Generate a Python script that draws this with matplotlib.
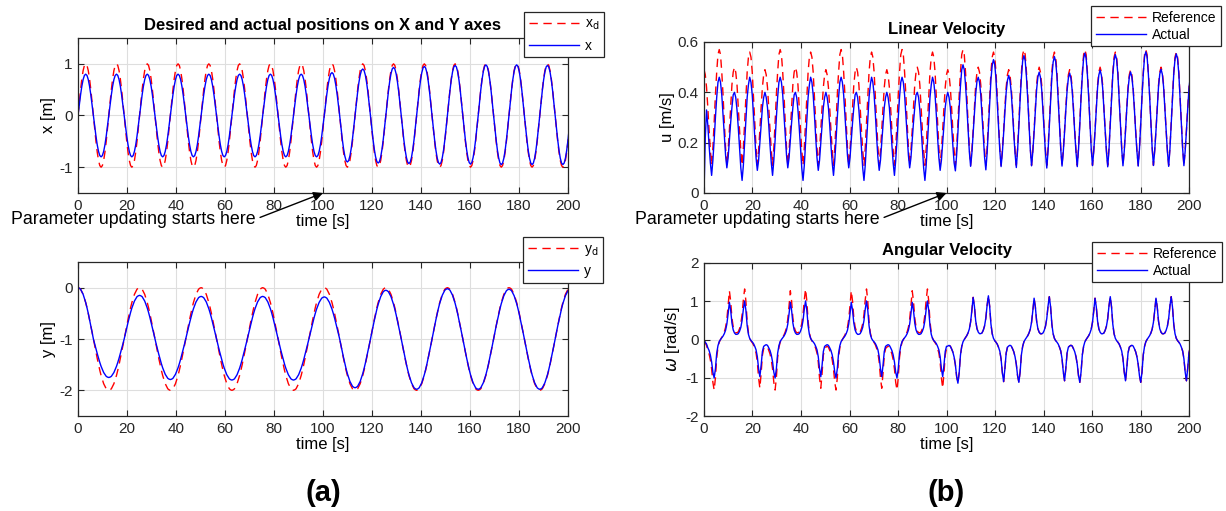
import matplotlib

matplotlib.use("Agg")
import matplotlib.pyplot as plt  # noqa: E402
import numpy as np  # noqa: E402

plt.rcParams["font.family"] = ["Liberation Sans", "DejaVu Sans"]
plt.rcParams["axes.unicode_minus"] = False

# --- values ---
# slow pattern period (y, u, omega repeat ~8 times in the run), sampled 48x per period
PERIOD = 25.13
N_PER = 48
N_CYC = 8

# x_d over one x cycle (half a slow period)
X_SHAPE = [0.0, 0.26, 0.5, 0.71, 0.87, 0.97, 1.0, 0.97, 0.87, 0.71, 0.5, 0.26,
           0.0, -0.26, -0.5, -0.71, -0.87, -0.97, -1.0, -0.97, -0.87, -0.71, -0.5, -0.26]
# actual x: peak / trough magnitude of each of the 16 x cycles
X_PEAK = [0.80, 0.80, 0.80, 0.80, 0.80, 0.80, 0.80, 0.80,
          0.83, 0.90, 0.93, 0.95, 0.97, 0.98, 0.98, 0.97]
X_TROUGH = [0.80, 0.80, 0.80, 0.80, 0.80, 0.80, 0.80, 0.80,
            0.90, 0.92, 0.93, 0.94, 0.94, 0.95, 0.95, 0.95]

# y_d over one period
Y_D = [0.0, -0.01, -0.03, -0.08, -0.13, -0.21, -0.29, -0.39, -0.5, -0.62, -0.74, -0.87,
       -1.0, -1.13, -1.26, -1.38, -1.5, -1.61, -1.71, -1.79, -1.87, -1.92, -1.97, -1.99,
       -2.0, -1.99, -1.97, -1.92, -1.87, -1.79, -1.71, -1.61, -1.5, -1.38, -1.26, -1.13,
       -1.0, -0.87, -0.74, -0.62, -0.5, -0.39, -0.29, -0.21, -0.13, -0.08, -0.03, -0.01]
# actual y: swing about -1 for each half wave (upper, lower, upper, ...)
Y_LOBE = [1.0, 0.75, 0.85, 0.79, 0.83, 0.80, 0.83, 0.80, 0.82,
          0.95, 0.95, 0.98, 0.98, 0.98, 0.97, 0.98, 0.97]

# linear velocity over one period: reference and actual before updating
U_REF = [0.49, 0.47, 0.42, 0.34, 0.25, 0.17, 0.11, 0.18, 0.28, 0.39, 0.48, 0.55,
         0.57, 0.55, 0.48, 0.39, 0.28, 0.18, 0.11, 0.17, 0.25, 0.34, 0.43, 0.48,
         0.50, 0.48, 0.43, 0.34, 0.25, 0.17, 0.11, 0.18, 0.28, 0.38, 0.48, 0.54,
         0.56, 0.54, 0.48, 0.38, 0.28, 0.18, 0.11, 0.17, 0.25, 0.34, 0.42, 0.47]
U_EARLY = [0.40, 0.38, 0.34, 0.27, 0.19, 0.12, 0.07, 0.13, 0.21, 0.30, 0.38, 0.44,
           0.46, 0.44, 0.39, 0.31, 0.23, 0.15, 0.10, 0.14, 0.21, 0.28, 0.34, 0.39,
           0.40, 0.38, 0.33, 0.26, 0.18, 0.10, 0.05, 0.11, 0.20, 0.29, 0.38, 0.43,
           0.46, 0.44, 0.39, 0.31, 0.22, 0.14, 0.09, 0.13, 0.20, 0.27, 0.34, 0.38]
U_START = [0.0, 0.22, 0.33]
# remaining share of the early tracking error, per velocity bump (33 bumps)
U_FADE = [1.0, 1.0, 1.0, 1.0, 1.0, 1.0, 1.0, 1.0, 1.0, 1.0, 1.0, 1.0, 1.0, 1.0, 1.0, 1.0, 1.0,
          0.55, 0.4, 0.3, 0.25, 0.22, 0.2, 0.18, 0.15, 0.13, 0.12, 0.1, 0.1, 0.08, 0.08,
          0.07, 0.07]

# angular velocity over one period (converged shape) and per-period gains
W_SHAPE = [-0.17, -0.15, -0.17, -0.24, -0.32, -0.45, -0.65, -0.95, -1.12, -0.85, -0.40, -0.18,
           -0.06, 0.0, 0.05, 0.10, 0.17, 0.27, 0.45, 0.75, 1.08, 0.85, 0.48, 0.28,
           0.19, 0.15, 0.15, 0.17, 0.24, 0.35, 0.55, 0.88, 1.12, 0.85, 0.40, 0.15,
           0.03, -0.03, -0.07, -0.12, -0.20, -0.30, -0.50, -0.85, -1.08, -0.75, -0.35, -0.20]
W_START = [-0.02, -0.08, -0.13]
W_REF_GAIN = [1.18, 1.18, 1.18, 1.18, 1.02, 1.0, 1.0, 1.0]
W_ACT_GAIN = [0.9, 0.9, 0.9, 0.9, 1.02, 1.0, 1.0, 1.0]

T_UPDATE = 100  # parameter updating starts here
XTICKS = list(range(0, 201, 20))
U_TICKS = [0, 0.2, 0.4, 0.6]
U_TICKLABELS = ["0", "0.2", "0.4", "0.6"]


def periodic(template, reps):
    a = np.tile(np.asarray(template, dtype=float), reps)
    return np.append(a, a[0])


n = N_PER * N_CYC + 1
k = np.arange(n)
t = k * PERIOD / N_PER

x_d = periodic(X_SHAPE, 2 * N_CYC)
x_amp = np.column_stack([X_PEAK, X_TROUGH]).ravel()
x_amp = np.append(np.repeat(x_amp, N_PER // 4), x_amp[-1])
x = x_d * x_amp

y_d = periodic(Y_D, N_CYC)
y = -1 + (y_d + 1) * np.asarray(Y_LOBE)[(k + N_PER // 4) // (N_PER // 2)]

u_ref = periodic(U_REF, N_CYC)
u_early = periodic(U_EARLY, N_CYC)
u_early[: len(U_START)] = U_START
u = u_ref + (u_early - u_ref) * np.asarray(U_FADE)[(k + N_PER // 8) // (N_PER // 4)]

w_shape = periodic(W_SHAPE, N_CYC)
w_shape[: len(W_START)] = W_START
per = np.minimum(k // N_PER, N_CYC - 1)
w_ref = w_shape * np.asarray(W_REF_GAIN)[per]
w = w_shape * np.asarray(W_ACT_GAIN)[per]


def style(ax, ylim, yticks, ylabel):
    ax.set_xlim(0, 200)
    ax.set_ylim(*ylim)
    ax.set_xticks(XTICKS)
    ax.set_yticks(yticks)
    ax.set_xlabel("time [s]", fontsize=12, labelpad=1)
    ax.set_ylabel(ylabel, fontsize=12, labelpad=2)
    ax.grid(True, color="#dedede", linewidth=0.8)
    ax.set_axisbelow(True)
    ax.tick_params(direction="in", top=True, right=True, length=4, width=0.8,
                   labelsize=11, colors="#262626", pad=4)
    for sp in ax.spines.values():
        sp.set_linewidth(0.9)
        sp.set_color("#262626")


def legend(ax, labels, anchor, spacing=0.2):
    leg = ax.legend(labels, loc="upper right", bbox_to_anchor=anchor,
                    bbox_transform=fig.transFigure, fontsize=10, handlelength=3.6,
                    handletextpad=0.4, borderpad=0.35, labelspacing=spacing,
                    borderaxespad=0, fancybox=False, framealpha=1)
    leg.get_frame().set_edgecolor("#262626")
    leg.get_frame().set_linewidth(0.9)


def mark_update(ax, y0, xytext):
    ax.annotate("Parameter updating starts here", xy=(T_UPDATE, y0), xycoords="data",
                xytext=xytext, textcoords="figure pixels", ha="right", va="center",
                fontsize=12.8, annotation_clip=False,
                arrowprops=dict(arrowstyle="-|>", color="k", lw=1, mutation_scale=14,
                                relpos=(1.0, 0.5), shrinkA=1, shrinkB=0))


W, H = 1226, 511
fig = plt.figure(figsize=(W / 100, H / 100), dpi=100)

RED = dict(color="red", linestyle=(0, (6, 4)), linewidth=1.0)
BLUE = dict(color="blue", linewidth=1.0)

ax1 = fig.add_axes([78 / W, 1 - 193 / H, 490 / W, 155 / H])
ax1.plot(t, x_d, **RED)
ax1.plot(t, x, **BLUE)
style(ax1, (-1.5, 1.5), [-1, 0, 1], "x [m]")
ax1.set_title("Desired and actual positions on X and Y axes", fontsize=12,
              fontweight="bold", pad=6)
legend(ax1, [r"x$_\mathrm{d}$", "x"], (604 / W, 1 - 12 / H), spacing=0.45)
mark_update(ax1, -1.5, (256, H - 219))

ax2 = fig.add_axes([78 / W, 1 - 416 / H, 490 / W, 154 / H])
ax2.plot(t, y_d, **RED)
ax2.plot(t, y, **BLUE)
style(ax2, (-2.5, 0.5), [-2, -1, 0], "y [m]")
legend(ax2, [r"y$_\mathrm{d}$", "y"], (603 / W, 1 - 237 / H), spacing=0.45)

ax3 = fig.add_axes([704 / W, 1 - 193 / H, 485 / W, 151 / H])
ax3.plot(t, u_ref, **RED)
ax3.plot(t, u, **BLUE)
style(ax3, (0, 0.6), U_TICKS, "u [m/s]")
ax3.set_yticklabels(U_TICKLABELS)
ax3.set_title("Linear Velocity", fontsize=12, fontweight="bold", pad=6)
legend(ax3, ["Reference", "Actual"], (1221 / W, 1 - 6 / H))
mark_update(ax3, 0, (880, H - 219))

ax4 = fig.add_axes([704 / W, 1 - 416 / H, 485 / W, 153 / H])
ax4.plot(t, w_ref, **RED)
ax4.plot(t, w, **BLUE)
style(ax4, (-2, 2), [-2, -1, 0, 1, 2], r"$\omega$ [rad/s]")
ax4.set_title("Angular Velocity", fontsize=12, fontweight="bold", pad=6)
legend(ax4, ["Reference", "Actual"], (1222 / W, 1 - 242 / H))

fig.text(323 / W, 1 - 493 / H, "(a)", fontsize=21, fontweight="bold", ha="center", va="center")
fig.text(946 / W, 1 - 493 / H, "(b)", fontsize=21, fontweight="bold", ha="center", va="center")

fig.savefig("out.png", dpi=100)
